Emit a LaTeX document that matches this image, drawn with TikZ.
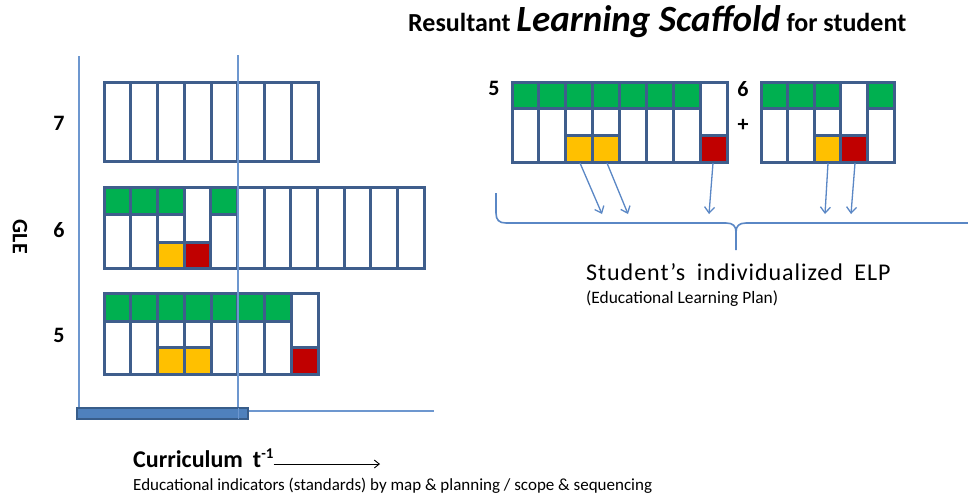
\documentclass[tikz,border=0pt]{standalone}
\usepackage{fontspec}
\setmainfont{Carlito}
\newfontfamily\spacedfont[LetterSpace=4,WordSpace=1.8]{Carlito}
\usetikzlibrary{arrows.meta}
\definecolor{gbox}{HTML}{00B050}
\definecolor{ybox}{HTML}{FFC000}
\definecolor{rbox}{HTML}{C00000}
\definecolor{cellline}{HTML}{3F5E8C}
\definecolor{axisc}{HTML}{6D97CF}
\definecolor{barfill}{HTML}{4F81BD}
\definecolor{barline}{HTML}{385D8A}
\definecolor{arrc}{HTML}{5A87C5}
\tikzset{
  cellb/.style={draw=cellline,line width=3pt,line join=miter},
  axisline/.style={draw=axisc,line width=1.4pt},
  arr/.style={draw=arrc,line width=1.3pt,-{Straight Barb[length=6pt,width=10pt]}},
  brc/.style={draw=arrc,line width=1.6pt},
  lbl/.style={font=\fontsize{22}{26}\selectfont\bfseries,inner sep=0pt,anchor=center},
}
% #1 x0, #2 w, #3 top, #4 green bottom, #5 yellow top, #6 bottom, #7 codes
\newcommand\gridcols[7]{%
  \foreach \kk [count=\ii from 0] in {#7}{%
    \pgfmathsetmacro\xa{#1+\ii*#2}%
    \pgfmathsetmacro\xb{#1+(\ii+1)*#2}%
    \ifcase\kk
      \draw[cellb,fill=white] (\xa,#3) rectangle (\xb,#6);
    \or
      \draw[cellb,fill=gbox] (\xa,#3) rectangle (\xb,#4);
      \draw[cellb,fill=white] (\xa,#4) rectangle (\xb,#6);
    \or
      \draw[cellb,fill=gbox] (\xa,#3) rectangle (\xb,#4);
      \draw[cellb,fill=white] (\xa,#4) rectangle (\xb,#5);
      \draw[cellb,fill=ybox] (\xa,#5) rectangle (\xb,#6);
    \or
      \draw[cellb,fill=white] (\xa,#3) rectangle (\xb,#5);
      \draw[cellb,fill=rbox] (\xa,#5) rectangle (\xb,#6);
    \fi
  }%
}
\begin{document}
\begin{tikzpicture}[x=1pt,y=-1pt]
\useasboundingbox (0,0) rectangle (968,499);
\fill[white] (0,0) rectangle (968,499);

% left axes
\draw[axisline] (79,56) -- (79,408);
\draw[axisline] (248,411) -- (434,411);

% left grids
\gridcols{104}{26.75}{82}{108}{135}{161}{0,0,0,0,0,0,0,0}
\gridcols{104}{26.67}{187}{214}{242}{268}{1,1,2,3,1,0,0,0,0,0,0,0}
\gridcols{104}{26.75}{293}{321}{347}{374}{1,1,2,2,1,1,1,3}

% vertical marker line and bar
\draw[axisline] (238,55) -- (238,419);
\draw[fill=barfill,draw=barline,line width=1.6pt] (77,408) rectangle (248,419);
\draw[draw=axisc,line width=1pt] (238,408) -- (238,419);

% left labels
\node[lbl] (l7) at (59,123) {7};
\node[lbl] (l6) at (59,230) {6};
\node[lbl] (l5) at (59,335) {5};
\node[lbl,rotate=-90] (gle) at (20,237) {GLE};

% title
\node[anchor=base west,inner sep=0pt] (title) at (408,31)
  {\fontsize{26}{30}\selectfont\bfseries Resultant {\fontsize{37}{42}\selectfont\itshape Learning Scaffold} for student};

% right grids
\gridcols{512}{26.875}{82}{108}{135}{162}{1,1,2,2,1,1,1,3}
\gridcols{761}{26.6}{82}{108}{135}{162}{1,1,2,3,1}
\node[lbl] (r5) at (494,88) {5};
\node[lbl] (r6) at (743,89) {6};
\node[lbl] (rplus) at (743,125) {+};

% arrows
\coordinate (a1s) at (580,163); \coordinate (a1e) at (602,214);
\coordinate (a2s) at (607,163); \coordinate (a2e) at (628,214);
\coordinate (a3s) at (713,163); \coordinate (a3e) at (709,214);
\coordinate (a4s) at (828,163); \coordinate (a4e) at (825,214);
\coordinate (a5s) at (855,163); \coordinate (a5e) at (851,214);
\draw[arr] (a1s) -- (a1e);
\draw[arr] (a2s) -- (a2e);
\draw[arr] (a3s) -- (a3e);
\draw[arr] (a4s) -- (a4e);
\draw[arr] (a5s) -- (a5e);

% brace
\draw[brc] (496,193) -- (496,213) .. controls (496,220) and (499,223) .. (506,223)
  -- (726,223) .. controls (733,223) and (736,226) .. (736,232) -- (736,250);
\draw[brc] (736,232) .. controls (736,226) and (739,223) .. (746,223) -- (968,223);

% ELP text
\node[anchor=base west,inner sep=0pt,font=\spacedfont\fontsize{24}{28}\selectfont] (elp) at (586,280) {Student’s individualized ELP};
\node[anchor=base west,inner sep=0pt,font=\fontsize{17.4}{20}\selectfont] (elp2) at (586,303) {(Educational Learning Plan)};

% curriculum
\node[anchor=base west,inner sep=0pt,font=\fontsize{24}{28}\selectfont\bfseries] (curr) at (133,467) {Curriculum\hspace{10pt}t\raisebox{9pt}{\fontsize{15}{18}\selectfont -1}};
\coordinate (ce) at (380,464);
\draw[line width=0.9pt,-{Straight Barb[length=5pt,width=8pt]}] (curr.east |- ce) -- (ce);
\node[anchor=base west,inner sep=0pt,font=\fontsize{17}{20}\selectfont] (edu) at (133,490) {Educational indicators (standards) by map \& planning / scope \& sequencing};
\end{tikzpicture}
\end{document}
